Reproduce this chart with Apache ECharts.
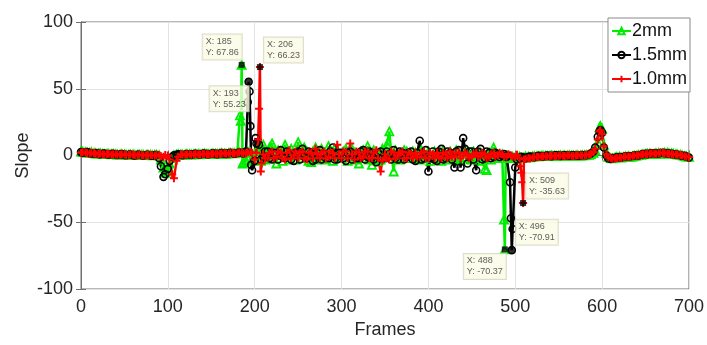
<!DOCTYPE html>
<html>
<head>
<meta charset="utf-8">
<script src="https://cdn.jsdelivr.net/npm/echarts@6/dist/echarts.min.js"></script>
<style>
  html, body { margin: 0; padding: 0; background: #fff; }
  #chart { width: 707px; height: 345px; }
</style>
</head>
<body>
<div id="chart"></div>
<script>
// frames sampled every 5, plus the in-between samples (2, 7, 12, ...)
const frames = [
  0, 5, 10, 15, 20, 25, 30, 35, 40, 45,
  50, 55, 60, 65, 70, 75, 80, 85, 90, 95,
  100, 105, 110, 115, 120, 125, 130, 135, 140, 145,
  150, 155, 160, 165, 170, 175, 180, 185, 190, 195,
  200, 205, 210, 215, 220, 225, 230, 235, 240, 245,
  250, 255, 260, 265, 270, 275, 280, 285, 290, 295,
  300, 305, 310, 315, 320, 325, 330, 335, 340, 345,
  350, 355, 360, 365, 370, 375, 380, 385, 390, 395,
  400, 405, 410, 415, 420, 425, 430, 435, 440, 445,
  450, 455, 460, 465, 470, 475, 480, 485, 490, 495,
  500, 505, 510, 515, 520, 525, 530, 535, 540, 545,
  550, 555, 560, 565, 570, 575, 580, 585, 590, 595,
  600, 605, 610, 615, 620, 625, 630, 635, 640, 645,
  650, 655, 660, 665, 670, 675, 680, 685, 690, 695,
  700
]
const framesMid = [
  2, 7, 12, 17, 22, 27, 32, 37, 42, 47,
  52, 57, 62, 67, 72, 77, 82, 87, 92, 97,
  102, 107, 112, 117, 122, 127, 132, 137, 142, 147,
  152, 157, 162, 167, 172, 177, 182, 187, 192, 197,
  202, 207, 212, 217, 222, 227, 232, 237, 242, 247,
  252, 257, 262, 267, 272, 277, 282, 287, 292, 297,
  302, 307, 312, 317, 322, 327, 332, 337, 342, 347,
  352, 357, 362, 367, 372, 377, 382, 387, 392, 397,
  402, 407, 412, 417, 422, 427, 432, 437, 442, 447,
  452, 457, 462, 467, 472, 477, 482, 487, 492, 497,
  502, 507, 512, 517, 522, 527, 532, 537, 542, 547,
  552, 557, 562, 567, 572, 577, 582, 587, 592, 597,
  602, 607, 612, 617, 622, 627, 632, 637, 642, 647,
  652, 657, 662, 667, 672, 677, 682, 687, 692, 697
]

// 2mm
const slope2mm = [
  3, 2.5, 2, 1.8, 1.5, 1.2, 1.3, 0.9, 1, 0.7,
  0.8, 0.5, 0.7, 0.4, 0.6, 0.3, 0.5, 0.3, 0.2, -9,
  -12, -2, 0.6, 0.8, 0.7, 1, 0.9, 1.1, 1, 1.2,
  1.1, 1.3, 1.4, 1.5, 1.7, 1.8, 2, 67.86, -4, 2,
  -3, 1, 8, -2, 9, -6, 3, 8, -3, 2,
  10, -2, 3, -5, 6, -1, 2, 7, -4, 3,
  -2, 5, -1, 2, -6, 4, 7, -7, 2, -3,
  4, 18, -12, 2, -2, 3, 0, 2, -3, 1,
  3, -2, 2, -4, 1, 3, -2, 2, -1, 3,
  -3, 1, 2, -10, 2, 6, -1, 1, 0, -1,
  -1.5, -1, -1.5, -1, -0.8, -0.5, -0.4, -0.3, -0.2, -0.2,
  -0.1, 0, 0, 0, 0.1, 0, 0.2, 0.5, 2, 10,
  20, 2, -2, -1.5, -1, -1.2, -0.5, -0.8, 0, 0.5,
  1, 1.5, 1.2, 1.8, 1.5, 2, 1.5, 1, 0.5, -0.5,
  -1
]
const slopeMid2mm = [
  2.8, 2.2, 2.4, 1.4, 1.7, 1, 1.1, 1.2, 0.6, 1,
  0.5, 0.8, 0.4, 0.7, 0.3, 0.6, 0.2, 0.5, -3, -13,
  -6, 0.2, 1, 0.5, 1.1, 0.7, 1.2, 0.9, 1.4, 1,
  1.5, 1.1, 1.7, 1.3, 1.9, 1.6, 2.5, -5, 3, -2,
  4, -4, -3, 6, -2, 4, -4, 2, 5, -3,
  2, 6, -4, 3, -3, 5, -3, 2, 5, -2,
  3, -4, 5, -3, 3, -2, -3, 4, -4, 5,
  8, 3, 4, -3, 4, -2, 3, -2, 4, -2,
  -4, 3, -2, 4, -3, -1, 4, -3, 2, -2,
  3, -2, -4, -11, -3, 2, -2, -48, -2, -1,
  -0.5, -2, -0.8, -1.3, -0.6, -0.7, -0.2, -0.4, 0, -0.3,
  0.1, -0.1, 0.2, -0.1, 0.2, 0.1, 0.4, 1, 4, 21,
  8, -1, -2.2, -1.2, -1.6, -0.8, -1, -0.2, 0.3, 0.8,
  1.4, 1, 1.7, 1.3, 2.1, 1.6, 1.3, 0.6, 0.2, -0.8
]
const extraFrames2mm = [183, 184, 186, 488, 489, 598]
const extraSlope2mm = [30, 26, -6, -70.37, -2, 22]

// 1.5mm
const slope15mm = [
  2.5, 2.2, 1.8, 1.5, 1.2, 1.3, 0.9, 1, 0.7, 0.8,
  0.5, 0.6, 0.3, 0.5, 0.2, 0.4, 0.1, 0.3, -2, -16,
  -10, -1, 0.5, 0.6, 0.8, 0.7, 1, 0.9, 1.2, 1,
  1.3, 1.2, 1.5, 1.4, 1.6, 1.7, 1.9, 2, 3, 22,
  -4, 8, -1, 3, -3, 2, 4, -2, 1, -4,
  3, 5, -2, 2, -3, 4, 1, -2, 6, -3,
  2, -4, 3, 1, -2, 4, -1, 2, -5, 3,
  -2, 1, 4, -3, 2, -1, 3, -4, 11, -2,
  -12, 3, -4, 5, -2, 2, -9, 4, 13, -6,
  3, -11, 5, -2, 2, -1, 1, 0, -1, -47,
  -9, -2, -1.5, -1.2, -1, -0.6, -0.5, -0.3, -0.3, -0.1,
  0, -0.1, 0, 0.1, 0, 0.1, 0.3, 0.8, 3, 14,
  17, 0, -2.5, -1.8, -1.2, -1, -0.6, -0.4, 0.2, 0.6,
  1.2, 1.4, 1.7, 1.5, 2, 1.6, 1.2, 0.8, 0.2, -0.3,
  -1.5
]
const slopeMid15mm = [
  2, 2.6, 1.5, 1.9, 1, 1.5, 0.7, 1.2, 0.5, 1,
  0.3, 0.8, 0.1, 0.6, 0, 0.5, -0.2, 0.4, -8, -14,
  -4, 0.2, 0.9, 0.3, 1.1, 0.5, 1.3, 0.7, 1.5, 0.9,
  1.7, 1, 1.9, 1.2, 2.1, 1.4, 2.3, 1.5, 40, -11,
  9, -3, 3, -2, 2, -3, -1, 3, -3, 2,
  -3, -1, 3, -4, 2, -3, -2, 3, -3, 2,
  -2, 2, -3, -2, 3, -3, 3, -3, 2, -2,
  3, -3, -2, 3, -3, 2, -3, 2, -3, 4,
  -2, -3, 3, -3, 3, -3, 3, -9, 5, 3,
  -3, 3, -3, 3, -2, 2, -1, 1, 0, -55,
  -3, -1, -2, -0.8, -1.3, -0.3, -0.8, 0, -0.5, 0.2,
  -0.3, 0.2, -0.2, 0.2, -0.1, 0.3, 0.2, 1.5, 6, 18,
  6, -2, -2, -1.5, -1.4, -0.7, -0.8, 0, 0.1, 1,
  1, 1.7, 1.4, 1.9, 1.7, 1.5, 0.9, 0.6, -0.2, -0.8
]
const extraFrames15mm = [193, 194, 196, 201, 494, 496, 598]
const extraSlope15mm = [55.23, 48, -7, 13, -20, -70.91, 19]

// 1.0mm
const slope10mm = [
  2, 2.5, 1.5, 1.8, 1.2, 1, 1.1, 0.7, 0.9, 0.5,
  0.7, 0.4, 0.5, 0.2, 0.4, 0.1, 0.3, 0, 0.2, -1,
  0, -14, -4, 0.8, 0.6, 0.9, 0.8, 1, 1.1, 1,
  1.2, 1.4, 1.3, 1.6, 1.5, 1.8, 1.7, 2, 1.5, 2.5,
  -3, 35, 1, -2, 3, -1, 2, -3, 4, 0,
  -2, 3, -3, 2, 5, -2, 3, -1, 2, 8,
  -2, 3, 9, -3, 2, -1, 3, -2, 4, -12,
  1, -3, 2, 0, 3, -2, 1, 2, -1, 3,
  -2, 1, 2, -2, 1, 3, -1, 2, 0, 1,
  -1, 2, 0, 1, -1, 2, 0, 1, -1, 0,
  -1, -2, -3, -2, -1.5, -1, -0.8, -0.6, -0.4, -0.3,
  -0.2, -0.1, 0, -0.1, 0, 0.1, 0.2, 0.6, 2.5, 12,
  16, 1, -2, -2.2, -1.5, -1.1, -0.8, -0.3, 0.1, 0.5,
  1, 1.3, 1.5, 1.7, 1.8, 1.5, 1.1, 0.7, 0.3, -0.6,
  -1.2
]
const slopeMid10mm = [
  2.4, 1.9, 2, 1.3, 1.5, 0.8, 1.4, 0.9, 0.6, 0.9,
  0.4, 0.7, 0.3, 0.5, 0.2, 0.4, 0.1, 0.4, -0.5, 0.3,
  -3, -17, -1, 0.5, 1, 0.6, 1.1, 0.8, 1.3, 0.9,
  1.5, 1.1, 1.7, 1.3, 1.9, 1.5, 2.2, 1.6, 2.4, 1.8,
  2, -12, -2, 2, -2, 3, -2, 2, -2, 3,
  2, -2, 2, -2, 1, 2, -2, 3, -2, 1,
  3, -2, 1, 3, -2, 3, -2, 2, -2, -4,
  -2, 3, -2, 2, -2, 2, -2, -1, 2, -2,
  2, -2, -1, 2, -2, -1, 2, -2, 2, -2,
  1, -1, 2, -2, 1, -1, 2, -1, 1, -1,
  0.5, -13, -2.5, -2.3, -1.2, -1.2, -0.6, -0.7, -0.2, -0.4,
  0, -0.3, 0.1, -0.2, 0.1, 0, 0.4, 1.2, 5, 18,
  7, -1.5, -2.4, -1.8, -1.6, -0.8, -0.9, 0, 0.2, 0.9,
  1.1, 1.6, 1.4, 2, 1.6, 1.4, 0.8, 0.6, 0, -0.9
]
const extraFrames10mm = [204, 206, 208, 506, 508, 509, 598]
const extraSlope10mm = [12, 66.23, -6, -8, -20, -35.63, 19]

// data tips
const tipFrames = [185, 193, 206, 488, 496, 509]
const tipSlope = [67.86, 55.23, 66.23, -70.37, -70.91, -35.63]
const tipOffsets = [[-39, -18], [-39, 17], [4, -17], [-41, 17], [4, -18], [3, -17]]

const xTicks = [0, 100, 200, 300, 400, 500, 600, 700]
const yTicks = [-100, -50, 0, 50, 100]

function merge(fr, vals, frMid, valsMid, exF, exV) {
  const pts = fr.map((f, i) => [f, vals[i]])
  frMid.forEach((f, i) => pts.push([f, valsMid[i]]))
  exF.forEach((f, i) => pts.push([f, exV[i]]))
  pts.sort((a, b) => a[0] - b[0])
  return pts
}

const chart = echarts.init(document.getElementById('chart'), null, { renderer: 'canvas' })

const axisColor = '#707070'
const textColor = '#262626'
const font = 'Liberation Sans, Arial, Helvetica, sans-serif'

const plusPath = 'path://M0,5L10,5M5,0L5,10'

function lineSeries(name, color, symbol, data, size, bw) {
  return {
    name: name,
    type: 'line',
    data: data,
    symbol: symbol,
    symbolSize: size,
    showAllSymbol: true,
    lineStyle: { color: color, width: 2.5 },
    itemStyle: { color: 'rgba(255,255,255,0)', borderColor: color, borderWidth: bw },
    emphasis: { disabled: true }
  }
}

const option = {
  animation: false,
  backgroundColor: '#fff',
  textStyle: { fontFamily: font },
  grid: { left: 81, right: 16, top: 22, bottom: 56, show: true, borderColor: axisColor, borderWidth: 1 },
  legend: {
    data: ['2mm', '1.5mm', '1.0mm'],
    orient: 'vertical',
    right: 17,
    top: 18,
    backgroundColor: '#fff',
    borderColor: '#8a8a8a',
    borderWidth: 1,
    padding: [4, 3, 4, 3],
    itemWidth: 19,
    itemHeight: 8,
    itemGap: 6,
    textStyle: { fontSize: 18, color: '#111', fontFamily: font, padding: [0, 0, 0, -4] }
  },
  xAxis: [
    {
      type: 'value',
      min: 0, max: 700, interval: 100,
      name: 'Frames',
      nameLocation: 'middle',
      nameGap: 32,
      nameMoveOverlap: false,
      nameTextStyle: { fontSize: 18, color: textColor },
      axisLine: { lineStyle: { color: axisColor } },
      axisTick: { inside: true, length: 5, lineStyle: { color: axisColor } },
      axisLabel: { fontSize: 18, color: textColor, margin: 9, formatter: v => xTicks.includes(v) ? String(v) : '' },
      splitLine: { lineStyle: { color: '#e3e3e3' } }
    },
    {
      type: 'value', position: 'top',
      min: 0, max: 700, interval: 100,
      axisLine: { lineStyle: { color: axisColor } },
      axisTick: { inside: true, length: 5, lineStyle: { color: axisColor } },
      axisLabel: { show: false },
      splitLine: { show: false }
    }
  ],
  yAxis: [
    {
      type: 'value',
      min: -100, max: 100, interval: 50,
      name: 'Slope',
      nameLocation: 'middle',
      nameGap: 49,
      nameMoveOverlap: false,
      nameTextStyle: { fontSize: 18, color: textColor },
      axisLine: { show: true, lineStyle: { color: axisColor } },
      axisTick: { show: true, inside: true, length: 5, lineStyle: { color: axisColor } },
      axisLabel: { fontSize: 18, color: textColor, margin: 8, formatter: v => yTicks.includes(v) ? String(v) : '' },
      splitLine: { lineStyle: { color: '#e3e3e3' } }
    },
    {
      type: 'value', position: 'right',
      min: -100, max: 100, interval: 50,
      axisLine: { show: true, lineStyle: { color: axisColor } },
      axisTick: { show: true, inside: true, length: 5, lineStyle: { color: axisColor } },
      axisLabel: { show: false },
      splitLine: { show: false }
    }
  ],
  series: [
    lineSeries('2mm', '#00ee00', 'triangle',
      merge(frames, slope2mm, framesMid, slopeMid2mm, extraFrames2mm, extraSlope2mm), 8, 1.8),
    lineSeries('1.5mm', '#000000', 'circle',
      merge(frames, slope15mm, framesMid, slopeMid15mm, extraFrames15mm, extraSlope15mm), 7, 1.6),
    lineSeries('1.0mm', '#ff0000', plusPath,
      merge(frames, slope10mm, framesMid, slopeMid10mm, extraFrames10mm, extraSlope10mm), 8, 2),
    {
      name: 'tips',
      type: 'scatter',
      z: 10,
      symbol: 'rect',
      symbolSize: 6,
      itemStyle: { color: '#000' },
      data: tipFrames.map((f, i) => ({
        value: [f, tipSlope[i]],
        label: {
          show: true,
          position: 'inside',
          align: 'left',
          verticalAlign: 'middle',
          offset: tipOffsets[i],
          formatter: 'X: ' + f + '\nY: ' + tipSlope[i].toFixed(2),
          fontSize: 9,
          lineHeight: 11,
          color: '#333',
          fontFamily: font,
          backgroundColor: '#fbfbe6',
          borderColor: '#d4d4c0',
          borderWidth: 1,
          padding: [2, 3, 1, 3]
        }
      })),
      emphasis: { disabled: true }
    }
  ]
}

chart.setOption(option)
</script>
</body>
</html>
